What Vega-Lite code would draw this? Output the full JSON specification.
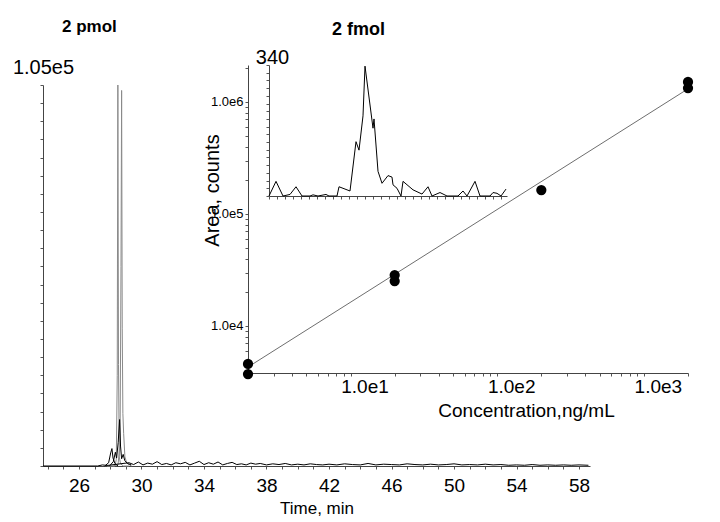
{
  "$schema": "https://vega.github.io/schema/vega-lite/v6.json",
  "width": 720,
  "height": 522,
  "autosize": {"type": "none"},
  "padding": 0,
  "background": "white",
  "config": {
    "font": "Liberation Sans",
    "view": {"stroke": null},
    "axis": {"grid": false, "domainColor": "#444", "tickColor": "#555", "labelColor": "#000", "titleColor": "#000", "titleFontWeight": "normal", "labelFont": "Liberation Sans", "titleFont": "Liberation Sans"}
  },
  "title": {"text": "2 pmol", "anchor": "start", "frame": "group", "dx": 62, "offset": -36, "fontSize": 17, "fontWeight": "bold", "color": "#000", "font": "Liberation Sans"},
  "datasets": {
    "chrom": [
      {"s": "A", "t": 27.8, "i": 0}, {"s": "A", "t": 28.3, "i": 0}, {"s": "A", "t": 28.39, "i": 1800}, {"s": "A", "t": 28.45, "i": 25000}, {"s": "A", "t": 28.49, "i": 105000}, {"s": "A", "t": 28.53, "i": 28000}, {"s": "A", "t": 28.58, "i": 2500}, {"s": "A", "t": 28.66, "i": 600}, {"s": "A", "t": 28.85, "i": 0}, {"s": "A", "t": 29.2, "i": 0},
      {"s": "B", "t": 28.2, "i": 0}, {"s": "B", "t": 28.5, "i": 400}, {"s": "B", "t": 28.63, "i": 6000}, {"s": "B", "t": 28.69, "i": 55000}, {"s": "B", "t": 28.73, "i": 103500}, {"s": "B", "t": 28.77, "i": 38000}, {"s": "B", "t": 28.81, "i": 14500}, {"s": "B", "t": 28.86, "i": 9000}, {"s": "B", "t": 28.94, "i": 2500}, {"s": "B", "t": 29.06, "i": 800}, {"s": "B", "t": 29.35, "i": 0},
      {"s": "C", "t": 27.95, "i": 0}, {"s": "C", "t": 28.2, "i": 1200}, {"s": "C", "t": 28.33, "i": 3800}, {"s": "C", "t": 28.41, "i": 2200}, {"s": "C", "t": 28.51, "i": 6500}, {"s": "C", "t": 28.6, "i": 12800}, {"s": "C", "t": 28.66, "i": 5500}, {"s": "C", "t": 28.73, "i": 2000}, {"s": "C", "t": 28.83, "i": 3200}, {"s": "C", "t": 28.93, "i": 1500}, {"s": "C", "t": 29.1, "i": 700}, {"s": "C", "t": 29.35, "i": 300},
      {"s": "D", "t": 27.65, "i": 0}, {"s": "D", "t": 27.9, "i": 900}, {"s": "D", "t": 28.03, "i": 3600}, {"s": "D", "t": 28.11, "i": 4800}, {"s": "D", "t": 28.18, "i": 2200}, {"s": "D", "t": 28.3, "i": 700}, {"s": "D", "t": 28.5, "i": 0},
      {"s": "N", "t": 23.7, "i": 0}, {"s": "N", "t": 27.2, "i": 0}, {"s": "N", "t": 27.5, "i": 300}, {"s": "N", "t": 27.8, "i": 150},
      {"s": "N", "t": 29.2, "i": 900}, {"s": "N", "t": 29.5, "i": 400}, {"s": "N", "t": 29.8, "i": 1100}, {"s": "N", "t": 30.1, "i": 300}, {"s": "N", "t": 30.4, "i": 800}, {"s": "N", "t": 30.7, "i": 500}, {"s": "N", "t": 31.0, "i": 1200}, {"s": "N", "t": 31.3, "i": 400}, {"s": "N", "t": 31.6, "i": 700}, {"s": "N", "t": 31.9, "i": 300},
      {"s": "N", "t": 32.2, "i": 900}, {"s": "N", "t": 32.5, "i": 600}, {"s": "N", "t": 32.8, "i": 1000}, {"s": "N", "t": 33.1, "i": 300}, {"s": "N", "t": 33.4, "i": 800}, {"s": "N", "t": 33.7, "i": 1300}, {"s": "N", "t": 34.0, "i": 400}, {"s": "N", "t": 34.3, "i": 900}, {"s": "N", "t": 34.6, "i": 500}, {"s": "N", "t": 34.9, "i": 1100},
      {"s": "N", "t": 35.2, "i": 300}, {"s": "N", "t": 35.5, "i": 700}, {"s": "N", "t": 35.8, "i": 1000}, {"s": "N", "t": 36.1, "i": 400}, {"s": "N", "t": 36.4, "i": 600}, {"s": "N", "t": 36.7, "i": 300}, {"s": "N", "t": 37.0, "i": 800}, {"s": "N", "t": 37.3, "i": 500}, {"s": "N", "t": 37.6, "i": 700}, {"s": "N", "t": 38.0, "i": 300},
      {"s": "N", "t": 38.4, "i": 600}, {"s": "N", "t": 38.8, "i": 400}, {"s": "N", "t": 39.2, "i": 700}, {"s": "N", "t": 39.6, "i": 300}, {"s": "N", "t": 40.0, "i": 500}, {"s": "N", "t": 40.4, "i": 300}, {"s": "N", "t": 40.8, "i": 600}, {"s": "N", "t": 41.2, "i": 400}, {"s": "N", "t": 41.6, "i": 300}, {"s": "N", "t": 42.0, "i": 500},
      {"s": "N", "t": 42.5, "i": 300}, {"s": "N", "t": 43.0, "i": 600}, {"s": "N", "t": 43.5, "i": 400}, {"s": "N", "t": 44.0, "i": 300}, {"s": "N", "t": 44.5, "i": 700}, {"s": "N", "t": 45.0, "i": 300}, {"s": "N", "t": 45.5, "i": 500}, {"s": "N", "t": 46.0, "i": 400}, {"s": "N", "t": 46.5, "i": 300}, {"s": "N", "t": 47.0, "i": 600},
      {"s": "N", "t": 47.5, "i": 400}, {"s": "N", "t": 48.0, "i": 300}, {"s": "N", "t": 48.5, "i": 500}, {"s": "N", "t": 49.0, "i": 300}, {"s": "N", "t": 49.5, "i": 400}, {"s": "N", "t": 50.0, "i": 600}, {"s": "N", "t": 50.5, "i": 300}, {"s": "N", "t": 51.0, "i": 400}, {"s": "N", "t": 51.5, "i": 300}, {"s": "N", "t": 52.0, "i": 500},
      {"s": "N", "t": 52.5, "i": 300}, {"s": "N", "t": 53.0, "i": 400}, {"s": "N", "t": 53.5, "i": 200}, {"s": "N", "t": 54.0, "i": 300}, {"s": "N", "t": 54.5, "i": 200}, {"s": "N", "t": 55.0, "i": 400}, {"s": "N", "t": 55.5, "i": 200}, {"s": "N", "t": 56.0, "i": 300}, {"s": "N", "t": 56.5, "i": 200}, {"s": "N", "t": 57.0, "i": 300},
      {"s": "N", "t": 57.5, "i": 200}, {"s": "N", "t": 58.0, "i": 300}, {"s": "N", "t": 58.6, "i": 200}
    ],
    "calib": [
      {"c": 2, "a": 4580}, {"c": 2, "a": 3727}, {"c": 20, "a": 28500}, {"c": 20, "a": 25200}, {"c": 200, "a": 163700}, {"c": 2000, "a": 1510000}, {"c": 2000, "a": 1330000}
    ],
    "fit": [
      {"c": 2, "a": 4300}, {"c": 2000, "a": 1310000}
    ],
    "inset": [
      {"t": 28.00, "v": 0}, {"t": 28.07, "v": 38}, {"t": 28.14, "v": 0}, {"t": 28.21, "v": 4}, {"t": 28.27, "v": 24}, {"t": 28.33, "v": 0}, {"t": 28.41, "v": 0}, {"t": 28.44, "v": 3}, {"t": 28.49, "v": 0}, {"t": 28.57, "v": 4},
      {"t": 28.60, "v": 0}, {"t": 28.68, "v": 0}, {"t": 28.70, "v": 24}, {"t": 28.81, "v": 13}, {"t": 28.87, "v": 141}, {"t": 28.90, "v": 119}, {"t": 28.94, "v": 208}, {"t": 28.96, "v": 337}, {"t": 29.04, "v": 176}, {"t": 29.05, "v": 200},
      {"t": 29.09, "v": 64}, {"t": 29.13, "v": 33}, {"t": 29.19, "v": 53}, {"t": 29.23, "v": 49}, {"t": 29.24, "v": 29}, {"t": 29.28, "v": 20}, {"t": 29.32, "v": 0}, {"t": 29.34, "v": 38}, {"t": 29.44, "v": 16}, {"t": 29.53, "v": 5},
      {"t": 29.59, "v": 24}, {"t": 29.63, "v": 0}, {"t": 29.71, "v": 9}, {"t": 29.78, "v": 0}, {"t": 29.89, "v": 0}, {"t": 29.94, "v": 13}, {"t": 29.98, "v": 0}, {"t": 30.06, "v": 38}, {"t": 30.11, "v": 0}, {"t": 30.21, "v": 0},
      {"t": 30.24, "v": 9}, {"t": 30.28, "v": 7}, {"t": 30.32, "v": 0}, {"t": 30.37, "v": 18}
    ]
  },
  "layer": [
    {
      "data": {"name": "chrom"},
      "mark": {"type": "line", "strokeWidth": 1},
      "encoding": {
        "x": {
          "field": "t", "type": "quantitative",
          "scale": {"domain": [23.7, 58.7], "range": [43, 590], "nice": false, "zero": false},
          "axis": {
            "orient": "bottom", "offset": -56,
            "values": [24,25,26,27,28,29,30,31,32,33,34,35,36,37,38,39,40,41,42,43,44,45,46,47,48,49,50,51,52,53,54,55,56,57,58],
            "labelExpr": "(datum.value - 26) % 4 == 0 ? datum.label : ''",
            "tickSize": 3, "labelFontSize": 19, "labelPadding": 7,
            "title": "Time, min", "titleFontSize": 17, "titlePadding": 5
          }
        },
        "y": {
          "field": "i", "type": "quantitative",
          "scale": {"domain": [0, 105000], "range": [466, 85], "nice": false},
          "axis": {
            "orient": "left", "offset": -43,
            "values": [0,5000,10000,15000,20000,25000,30000,35000,40000,45000,50000,55000,60000,65000,70000,75000,80000,85000,90000,95000,100000,105000],
            "labels": false, "tickSize": 3,
            "title": "1.05e5", "titleAngle": 0, "titleX": 0, "titleY": 67, "titleAlign": "center", "titleBaseline": "middle", "titleFontSize": 20
          }
        },
        "detail": {"field": "s"},
        "color": {"field": "s", "type": "nominal", "scale": {"domain": ["A", "B", "C", "D", "N"], "range": ["#8a8a8a", "#8a8a8a", "#000000", "#000000", "#000000"]}, "legend": null}
      }
    },
    {
      "layer": [
        {"data": {"name": "fit"}, "mark": {"type": "line", "color": "#6e6e6e", "strokeWidth": 1}},
        {"data": {"name": "calib"}, "mark": {"type": "circle", "color": "#000000", "opacity": 1, "size": 105}}
      ],
      "encoding": {
        "x": {
          "field": "c", "type": "quantitative",
          "scale": {"type": "log", "domain": [2, 2000], "range": [248, 688], "nice": false},
          "axis": {
            "orient": "bottom", "offset": -149,
            "values": [2,3,4,5,6,7,8,9,10,20,30,40,50,60,70,80,90,100,200,300,400,500,600,700,800,900,1000,2000],
            "labelExpr": "datum.value == 10 ? '1.0e1' : datum.value == 100 ? '1.0e2' : datum.value == 1000 ? '1.0e3' : ''",
            "labelFontSize": 19, "labelOffset": 14, "tickSize": 3, "labelPadding": 1,
            "title": "Concentration,ng/mL", "titleFontSize": 19, "titleX": 526, "titleY": 37, "titleAlign": "center", "titleBaseline": "middle"
          }
        },
        "y": {
          "field": "a", "type": "quantitative",
          "scale": {"type": "log", "domain": [3805, 2138000], "range": [373, 65], "nice": false},
          "axis": {
            "orient": "left", "offset": -248,
            "values": [4000,5000,6000,7000,8000,9000,10000,20000,30000,40000,50000,60000,70000,80000,90000,100000,200000,300000,400000,500000,600000,700000,800000,900000,1000000,2000000],
            "labelExpr": "datum.value == 10000 ? '1.0e4' : datum.value == 100000 ? '1.0e5' : datum.value == 1000000 ? '1.0e6' : ''",
            "labelFontSize": 13, "tickSize": 3, "labelPadding": 2,
            "title": "Area, counts", "titleFontSize": 20, "titleX": -36, "titleY": 190, "titleAngle": -90, "titleAlign": "center", "titleBaseline": "middle"
          }
        }
      }
    },
    {
      "data": {"name": "inset"},
      "mark": {"type": "line", "color": "#000000", "strokeWidth": 1},
      "encoding": {
        "x": {
          "field": "t", "type": "quantitative",
          "scale": {"domain": [28.0, 30.38], "range": [269, 507], "nice": false, "zero": false},
          "axis": {
            "orient": "bottom", "offset": -326,
            "values": [28.0,28.08,28.16,28.24,28.32,28.4,28.48,28.56,28.64,28.72,28.8,28.88,28.96,29.04,29.12,29.2,29.28,29.36,29.44,29.52,29.6,29.68,29.76,29.84,29.92,30.0,30.08,30.16,30.24,30.32],
            "labels": false, "tickSize": 3,
            "title": "2 fmol", "titleX": 358, "titleY": -167, "titleFontSize": 18, "titleFontWeight": "bold", "titleAlign": "center", "titleBaseline": "middle"
          }
        },
        "y": {
          "field": "v", "type": "quantitative",
          "scale": {"domain": [0, 340], "range": [196, 65], "nice": false},
          "axis": {
            "orient": "left", "offset": -269,
            "values": [0,20,40,60,80,100,120,140,160,180,200,220,240,260,280,300,320,340],
            "labels": false, "tickSize": 3,
            "title": "340", "titleAngle": 0, "titleX": 3, "titleY": 57, "titleAlign": "center", "titleBaseline": "middle", "titleFontSize": 20
          }
        }
      }
    }
  ],
  "resolve": {"scale": {"x": "independent", "y": "independent", "color": "independent"}}
}
